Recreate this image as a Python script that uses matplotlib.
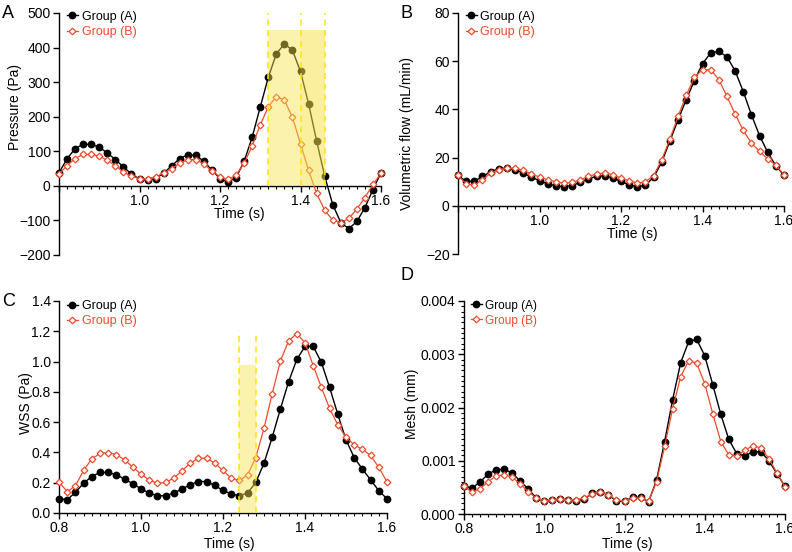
import numpy as np
import matplotlib
matplotlib.use("Agg")
import matplotlib.pyplot as plt
from matplotlib.ticker import MultipleLocator, FuncFormatter

plt.rcParams['font.family'] = ['Liberation Sans', 'DejaVu Sans']

time = [round(0.80 + 0.02 * i, 2) for i in range(41)]

pressure_a = [38, 78, 108, 120, 120, 112, 95, 76, 55, 34, 20, 16, 21, 37, 58, 79, 90, 88, 71, 45,
              21, 11, 24, 71, 141, 228, 314, 382, 411, 392, 331, 238, 130, 29, -54, -106, -124, -103,
              -63, -11, 38]
pressure_b = [35, 58, 79, 91, 91, 86, 74, 58, 40, 28, 21, 21, 26, 37, 50, 65, 76, 76, 63, 43,
              26, 19, 31, 65, 116, 176, 229, 258, 248, 198, 122, 45, -22, -70, -99, -107, -94, -67,
              -34, 4, 36]

flow_a = [12.6, 10.1, 10.1, 12.2, 14.1, 15.4, 15.6, 15.0, 13.6, 11.9, 10.4, 9.1, 8.3, 8.0, 8.4,
          9.7, 11.2, 12.2, 12.5, 11.5, 10.1, 8.7, 7.8, 8.6, 11.8, 18.1, 26.9, 35.7, 44.0, 51.9,
          59.0, 63.4, 64.1, 61.8, 56.0, 47.4, 37.8, 29.1, 22.2, 16.6, 12.6]
flow_b = [12.6, 9.1, 8.6, 10.8, 13.6, 15.0, 15.6, 15.6, 14.7, 13.3, 11.9, 10.8, 10.0, 9.4, 9.7,
          10.8, 12.2, 13.2, 13.6, 12.9, 11.5, 10.4, 9.4, 10.0, 12.5, 19.1, 27.7, 37.1, 45.8, 53.3,
          56.5, 56.5, 52.4, 45.4, 38.1, 31.3, 26.0, 22.6, 19.5, 16.8, 12.9]

wss_a = [0.094, 0.088, 0.136, 0.197, 0.241, 0.268, 0.268, 0.252, 0.224, 0.193, 0.160, 0.132,
         0.114, 0.114, 0.132, 0.158, 0.187, 0.208, 0.208, 0.182, 0.149, 0.125, 0.114, 0.132,
         0.202, 0.329, 0.500, 0.687, 0.867, 1.014, 1.100, 1.100, 0.994, 0.829, 0.652, 0.483,
         0.366, 0.290, 0.219, 0.147, 0.094]
wss_b = [0.206, 0.140, 0.180, 0.281, 0.358, 0.393, 0.399, 0.386, 0.351, 0.303, 0.257, 0.217,
         0.197, 0.202, 0.230, 0.279, 0.329, 0.362, 0.362, 0.329, 0.281, 0.230, 0.215, 0.252,
         0.366, 0.560, 0.788, 1.003, 1.137, 1.185, 1.124, 0.974, 0.829, 0.691, 0.582, 0.500,
         0.450, 0.421, 0.380, 0.301, 0.206]

mesh_a = [0.52, 0.49, 0.60, 0.75, 0.83, 0.84, 0.77, 0.62, 0.47, 0.30, 0.24, 0.26, 0.28, 0.27,
          0.25, 0.28, 0.39, 0.42, 0.36, 0.24, 0.24, 0.31, 0.31, 0.23, 0.64, 1.36, 2.15, 2.84,
          3.24, 3.28, 2.97, 2.43, 1.87, 1.40, 1.13, 1.09, 1.17, 1.17, 1.00, 0.755, 0.52]
mesh_b = [0.52, 0.41, 0.47, 0.61, 0.71, 0.74, 0.69, 0.57, 0.42, 0.30, 0.25, 0.27, 0.28, 0.27,
          0.27, 0.30, 0.38, 0.42, 0.36, 0.26, 0.24, 0.30, 0.30, 0.24, 0.61, 1.27, 1.98, 2.58,
          2.88, 2.83, 2.45, 1.88, 1.36, 1.11, 1.09, 1.20, 1.28, 1.24, 1.04, 0.77, 0.51]
mesh_a = [v / 1000 for v in mesh_a]
mesh_b = [v / 1000 for v in mesh_b]

labels = ["Group (A)", "Group (B)"]
BLACK = "#000000"
RED = "#f04a2a"
YELLOW_FILL = "#f8e34a"
YELLOW_LINE = "#ffe600"

W, H = 792, 552
fig = plt.figure(figsize=(W / 100, H / 100), dpi=100)


def px_axes(l, r, t, b):
    return fig.add_axes([l / W, 1 - b / H, (r - l) / W, (b - t) / H])


axA = px_axes(59, 381, 13, 255)
axB = px_axes(458, 784, 13, 254)
axC = px_axes(59, 387, 301, 513)
axD = px_axes(464, 785, 301, 514)


def draw(ax, ya, yb, legsize=9):
    ax.plot(time, ya, color=BLACK, lw=1.0, marker='o', ms=4.6, mfc=BLACK, mec=BLACK,
            label=labels[0], clip_on=False, zorder=3)
    ax.plot(time, yb, color=RED, lw=0.9, marker='D', ms=3.4, mfc='white', mec=RED, mew=0.9,
            label=labels[1], clip_on=False, zorder=3)
    ax.set_xlim(0.8, 1.6)
    ax.spines['top'].set_visible(False)
    ax.spines['right'].set_visible(False)
    for s in ('left', 'bottom'):
        ax.spines[s].set_linewidth(1.0)
    ax.xaxis.set_major_locator(MultipleLocator(0.2))
    ax.xaxis.set_minor_locator(MultipleLocator(0.02))
    ax.xaxis.set_major_formatter(FuncFormatter(lambda v, p: f"{v:.1f}"))
    ax.tick_params(axis='both', which='major', direction='out', length=4, width=1.0,
                   labelsize=10, pad=2)
    ax.tick_params(axis='x', which='minor', direction='out', length=2.5, width=0.8)
    ax.tick_params(axis='y', which='minor', left=False)
    ax.legend(loc='upper left', bbox_to_anchor=(0.0, 1.04), frameon=False, fontsize=legsize,
              handlelength=0.9, handletextpad=0.3, labelspacing=0.25, borderaxespad=0.2,
              labelcolor='linecolor', markerscale=1.0)


def int_fmt(v, p):
    return f"{int(round(v))}".replace('-', '\u2212')


draw(axA, pressure_a, pressure_b)
axA.set_ylim(-200, 500)
axA.yaxis.set_major_locator(MultipleLocator(100))
axA.yaxis.set_major_formatter(FuncFormatter(int_fmt))
axA.spines['bottom'].set_position(('data', 0))
axA.xaxis.set_major_formatter(FuncFormatter(lambda v, p: "" if abs(v - 0.8) < 1e-6 else f"{v:.1f}"))
axA.set_ylabel("Pressure (Pa)", fontsize=10)
axA.yaxis.set_label_coords(-0.115, 0.61)
axA.set_xlabel("Time (s)", fontsize=10)
axA.xaxis.set_label_coords(0.559, 0.198)
axA.fill_between([1.32, 1.46], 0, 450, color=YELLOW_FILL, alpha=0.45, lw=0, zorder=4)
axA.fill_between([1.40, 1.46], 0, 450, color=YELLOW_FILL, alpha=0.15, lw=0, zorder=4)
for xv in (1.32, 1.40, 1.46):
    axA.plot([xv, xv], [0, 500], color=YELLOW_LINE, lw=1.1, ls=(0, (4, 3)), zorder=5)

draw(axB, flow_a, flow_b)
axB.set_ylim(-20, 80)
axB.yaxis.set_major_locator(MultipleLocator(20))
axB.yaxis.set_major_formatter(FuncFormatter(int_fmt))
axB.spines['bottom'].set_position(('data', 0))
axB.xaxis.set_major_formatter(FuncFormatter(lambda v, p: "" if abs(v - 0.8) < 1e-6 else f"{v:.1f}"))
axB.set_ylabel("Volumetric flow (mL/min)", fontsize=10)
axB.yaxis.set_label_coords(-0.135, 0.50)
axB.set_xlabel("Time (s)", fontsize=10)
axB.xaxis.set_label_coords(0.534, 0.112)

draw(axC, wss_a, wss_b)
axC.set_ylim(0, 1.4)
axC.yaxis.set_major_locator(MultipleLocator(0.2))
axC.yaxis.set_major_formatter(FuncFormatter(lambda v, p: f"{v:.1f}"))
axC.set_ylabel("WSS (Pa)", fontsize=10)
axC.yaxis.set_label_coords(-0.079, 0.52)
axC.set_xlabel("Time (s)", fontsize=10)
axC.xaxis.set_label_coords(0.52, -0.112)
axC.fill_between([1.24, 1.28], 0, 0.98, color=YELLOW_FILL, alpha=0.45, lw=0, zorder=4)
for xv in (1.24, 1.28):
    axC.plot([xv, xv], [0, 1.2], color=YELLOW_LINE, lw=1.1, ls=(0, (4, 3)), zorder=5)

draw(axD, mesh_a, mesh_b, legsize=8.5)
axD.set_ylim(0, 0.004)
axD.yaxis.set_major_locator(MultipleLocator(0.001))
axD.yaxis.set_minor_locator(MultipleLocator(0.0001))
axD.tick_params(axis='y', which='minor', left=True, direction='out', length=2.5, width=0.8)
axD.yaxis.set_major_formatter(FuncFormatter(lambda v, p: f"{v:.3f}"))
axD.set_ylabel("Mesh (mm)", fontsize=10)
axD.yaxis.set_label_coords(-0.14, 0.516)
axD.set_xlabel("Time (s)", fontsize=10)
axD.xaxis.set_label_coords(0.51, -0.108)

for letter, (x, y) in zip("ABCD", [(2, 13), (401, 13), (2, 301), (401, 276)]):
    fig.text(x / W, 1 - y / H, letter, fontsize=13, va='center', ha='left')

fig.savefig("out.png", dpi=100)
